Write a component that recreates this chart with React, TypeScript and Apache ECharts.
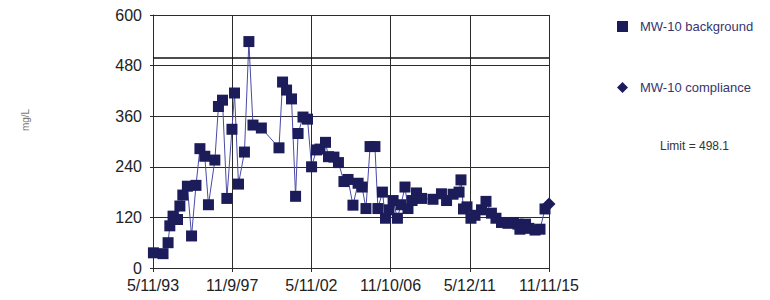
import React, { useEffect, useRef } from "react";
import * as echarts from "echarts";

const START_DATE = "1993-05-11";
const END_DATE = "2015-11-11";
const xTickLabels = ["5/11/93", "11/9/97", "5/11/02", "11/10/06", "5/12/11", "11/11/15"];
const yTickValues = [0, 120, 240, 360, 480, 600];
const LIMIT = 498.1;
const Y_UNIT = "mg/L";

const backgroundDates = [
  "1993-05-20", "1993-12-05", "1994-03-20", "1994-04-25", "1994-07-01", "1994-10-01",
  "1994-11-20", "1995-01-20", "1995-04-25", "1995-07-20", "1995-10-20", "1996-01-10",
  "1996-04-20", "1996-07-05", "1996-11-15", "1997-01-28", "1997-04-22", "1997-07-22",
  "1997-11-05", "1997-12-28", "1998-03-20", "1998-07-22", "1998-10-22", "1999-01-15",
  "1999-07-08", "2000-07-08", "2000-09-20", "2000-12-12", "2001-03-25", "2001-06-17",
  "2001-08-08", "2001-11-18", "2002-02-20", "2002-05-15", "2002-08-25", "2002-11-05",
  "2003-02-28", "2003-05-01", "2003-08-22", "2003-11-24", "2004-03-17", "2004-06-10",
  "2004-09-20", "2005-01-05", "2005-03-28", "2005-06-17", "2005-09-10", "2005-12-20",
  "2006-02-20", "2006-05-25", "2006-07-27", "2006-10-08", "2007-01-01", "2007-04-01",
  "2007-06-13", "2007-09-05", "2007-11-06", "2008-01-30", "2008-05-01", "2008-08-14",
  "2009-04-08", "2009-10-01", "2010-01-15", "2010-05-30", "2010-10-01", "2010-11-10",
  "2011-01-01", "2011-03-15", "2011-06-05", "2011-08-28", "2012-01-10", "2012-04-12",
  "2012-08-03", "2012-11-05", "2013-02-28", "2013-07-12", "2013-11-03", "2014-02-05",
  "2014-03-17", "2014-07-12", "2014-09-20", "2015-01-25", "2015-05-08", "2015-08-20",
];
const backgroundValues = [
  36, 34, 60, 100, 123, 115,
  147, 173, 194, 76, 196, 283,
  265, 150, 256, 383, 398, 165,
  329, 415, 199, 275, 537, 339,
  332, 285, 441, 422, 401, 170,
  319, 358, 353, 240, 280, 282,
  298, 264, 263, 250, 205, 210,
  149, 201, 192, 141, 288, 288,
  141, 180, 118, 138, 160, 118,
  150, 192, 141, 160, 178, 165,
  163, 176, 160, 175, 180, 209,
  140, 145, 118, 125, 138, 158,
  130, 118, 108, 106, 108, 104,
  92, 104, 94, 90, 92, 140,
];
const complianceDates = ["2015-11-11"];
const complianceValues = [152];

const DAY = 86400000;
const toDays = (d: string) => (Date.parse(d) - Date.parse(START_DATE)) / DAY;
const X_MAX = toDays(END_DATE);
const X_INTERVAL = X_MAX / (xTickLabels.length - 1);

export default function App() {
  const ref = useRef<HTMLDivElement>(null);
  useEffect(() => {
    if (!ref.current) return;
    const chart = echarts.init(ref.current, null, { renderer: "svg" });
    const font = "'Liberation Sans', Arial, sans-serif";
    const gridColor = "#2b2b2b";
    chart.setOption({
      animation: false,
      textStyle: { fontFamily: font },
      grid: { left: 153, right: 221, top: 15, bottom: 32, containLabel: false },
      legend: {
        orient: "vertical",
        left: 612,
        top: 15,
        itemWidth: 11,
        itemHeight: 11,
        itemGap: 48,
        selectedMode: false,
        textStyle: {
          fontFamily: font,
          fontSize: 13,
          color: "#36366e",
          padding: [0, 0, 0, 7],
        },
        data: [
          { name: "MW-10 background", icon: "rect" },
          { name: "MW-10 compliance", icon: "diamond" },
        ],
      },
      graphic: [
        {
          type: "text",
          left: 660,
          top: 140,
          style: { text: `Limit = ${LIMIT}`, fontSize: 12, fontFamily: font, fill: "#333" },
        },
        {
          type: "text",
          x: 25,
          y: 120,
          rotation: Math.PI / 2,
          style: {
            text: Y_UNIT,
            fontSize: 10,
            fontFamily: font,
            fill: "#777",
            align: "center",
            verticalAlign: "middle",
          },
        },
      ],
      xAxis: {
        type: "value",
        min: 0,
        max: X_MAX,
        interval: X_INTERVAL,
        axisLine: { show: true, lineStyle: { color: gridColor, width: 1 } },
        axisTick: { show: true, length: 4, inside: false, lineStyle: { color: gridColor } },
        splitLine: { show: true, lineStyle: { color: gridColor, width: 1 } },
        axisLabel: {
          margin: 9,
          fontSize: 16,
          color: "#222",
          fontFamily: font,
          showMinLabel: true,
          showMaxLabel: true,
          formatter: (v: number) => {
            const i = Math.round(v / X_INTERVAL);
            return xTickLabels[i] ?? "";
          },
        },
      },
      yAxis: {
        type: "value",
        min: yTickValues[0],
        max: yTickValues[yTickValues.length - 1],
        interval: yTickValues[1] - yTickValues[0],
        axisLine: { show: true, lineStyle: { color: gridColor, width: 1 } },
        axisTick: { show: true, length: 3, lineStyle: { color: gridColor } },
        splitLine: { show: true, lineStyle: { color: gridColor, width: 1 } },
        axisLabel: { margin: 11, fontSize: 16, color: "#222", fontFamily: font },
      },
      series: [
        {
          name: "MW-10 background",
          type: "line",
          symbol: "rect",
          symbolSize: 11,
          showAllSymbol: true,
          itemStyle: { color: "#1c1c5a" },
          lineStyle: { color: "#4a4aa8", width: 1 },
          data: backgroundDates.map((d, i) => [toDays(d), backgroundValues[i]]),
          markLine: {
            silent: true,
            symbol: ["none", "none"],
            label: { show: false },
            lineStyle: { color: "#111", width: 1.6, type: "solid" },
            data: [{ yAxis: LIMIT }],
          },
          z: 3,
        },
        {
          name: "MW-10 compliance",
          type: "line",
          symbol: "diamond",
          symbolSize: 13,
          itemStyle: { color: "#1c1c5a" },
          lineStyle: { width: 0 },
          data: complianceDates.map((d, i) => [toDays(d), complianceValues[i]]),
          z: 4,
        },
      ],
    });
    return () => chart.dispose();
  }, []);
  return (
    <div
      ref={ref}
      style={{ position: "fixed", left: 0, top: 0, width: 770, height: 300, background: "#fff" }}
    />
  );
}
